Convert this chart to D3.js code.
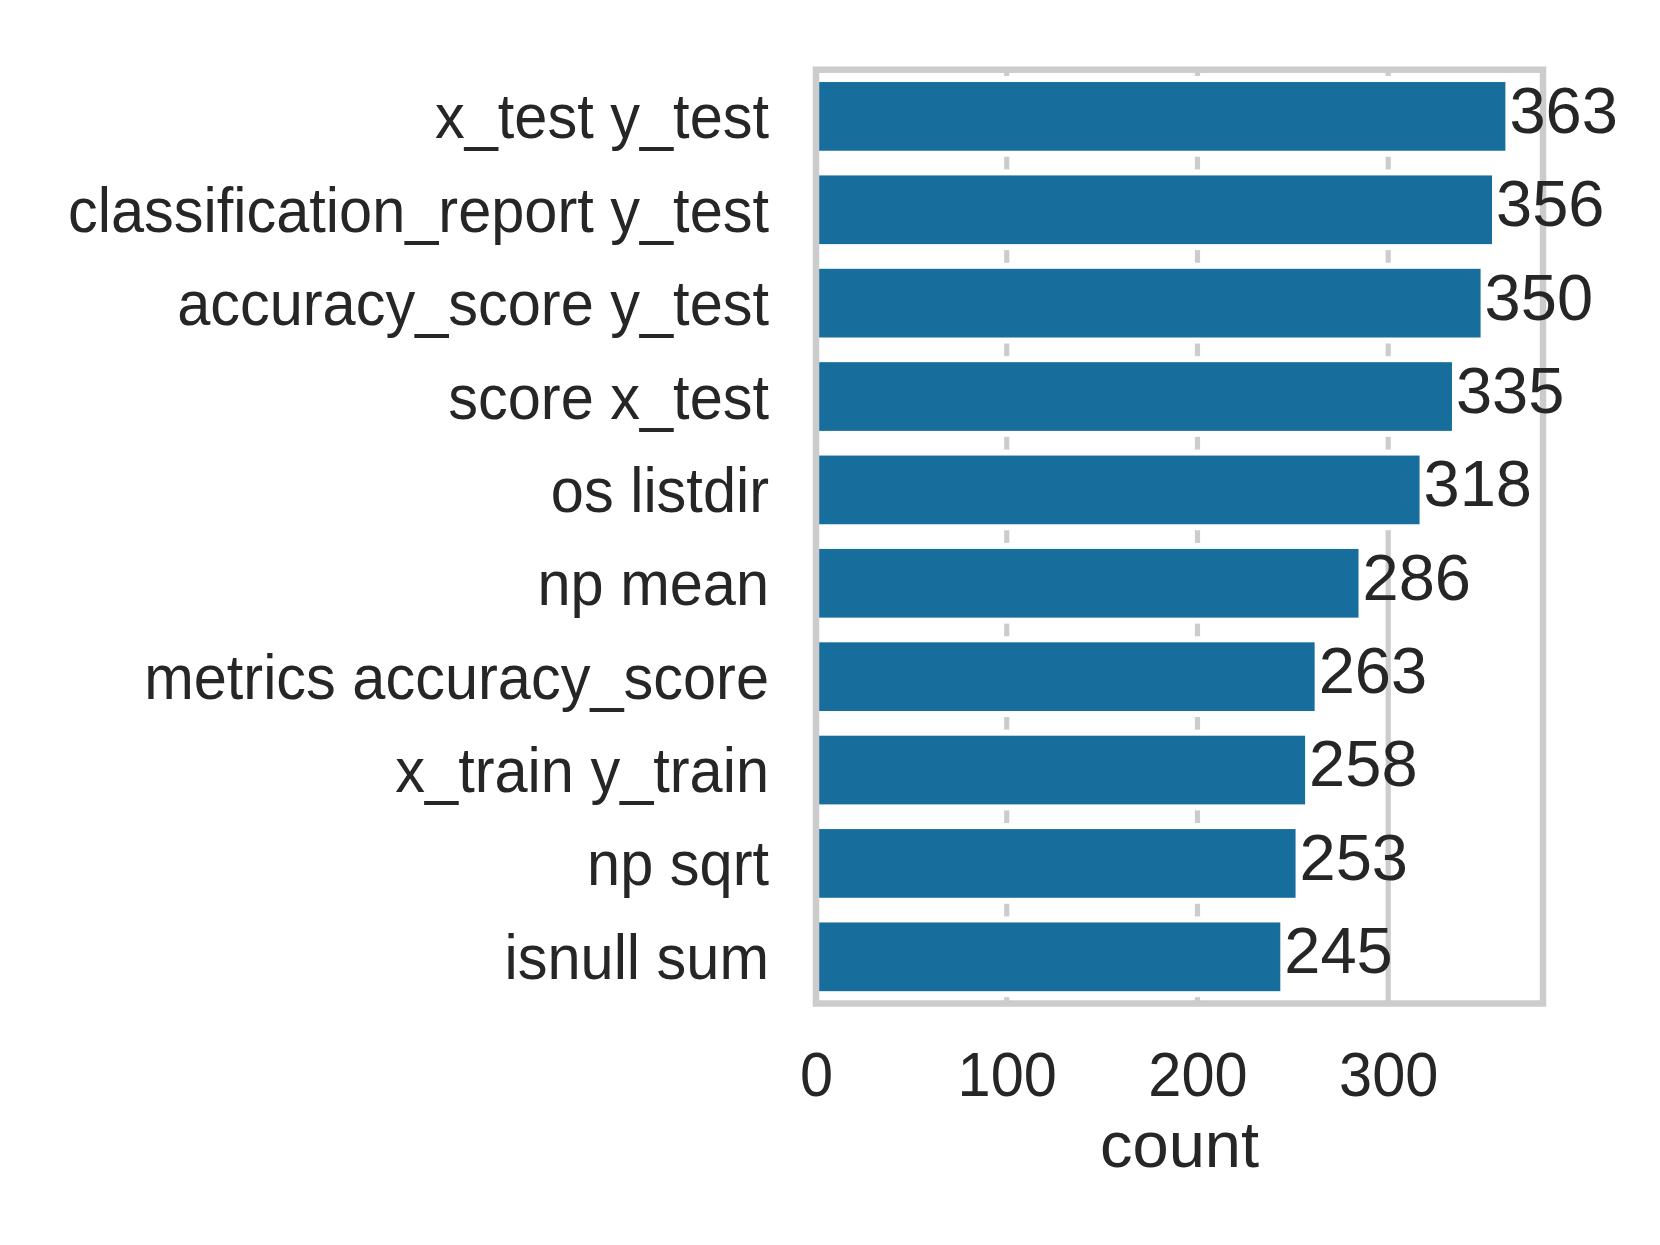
<!DOCTYPE html>
<html>
<head>
<meta charset="utf-8">
<script src="https://cdn.jsdelivr.net/npm/d3@7"></script>
<style>
  body { margin: 0; background: #fff; }
  svg text { font-family: "Liberation Sans", Arial, sans-serif; fill: #262626; }
</style>
</head>
<body>
<svg width="1660" height="1245"></svg>
<script>
// bigram counts, most frequent first
var categories = ["x_test y_test", "classification_report y_test", "accuracy_score y_test",
  "score x_test", "os listdir", "np mean", "metrics accuracy_score",
  "x_train y_train", "np sqrt", "isnull sum"];
var counts = [363, 356, 350, 335, 318, 286, 263, 258, 253, 245];
var xTicks = [0, 100, 200, 300];
var xLabel = "count";

var svg = d3.select("svg");
// plot box (window.top is taken, so prefix these)
var plotLeft = 816, plotRight = 1543, plotTop = 69.7, plotBottom = 1003.5;
var tickFont = 59.5, labelFont = 65;
var stretch = 1.07; // tick labels in the original are a bit taller than wide
var barColor = "#176d9c", gridColor = "#cccccc";

var x = d3.scaleLinear()
    .domain([0, d3.max(counts) * 1.05])
    .range([plotLeft, plotRight]);

var y = d3.scaleBand()
    .domain(categories)
    .range([plotTop, plotBottom])
    .paddingInner(0.2)
    .paddingOuter(0.1);

// vertical grid, under the bars
svg.append("g").selectAll("line")
    .data(xTicks)
    .enter().append("line")
      .attr("x1", d => x(d)).attr("x2", d => x(d))
      .attr("y1", plotTop).attr("y2", plotBottom)
      .attr("stroke", gridColor)
      .attr("stroke-width", 5.2);

// bars, white edge like seaborn
svg.append("g").selectAll("rect")
    .data(categories)
    .enter().append("rect")
      .attr("x", x(0))
      .attr("y", d => y(d))
      .attr("width", (d, i) => x(counts[i]) - x(0))
      .attr("height", y.bandwidth())
      .attr("fill", barColor)
      .attr("stroke", "#fff")
      .attr("stroke-width", 6);

// frame
svg.append("rect")
    .attr("x", plotLeft).attr("y", plotTop)
    .attr("width", plotRight - plotLeft).attr("height", plotBottom - plotTop)
    .attr("fill", "none")
    .attr("stroke", gridColor)
    .attr("stroke-width", 6.5);

// y axis labels
var yAxis = svg.append("g")
    .attr("transform", "translate(" + plotLeft + ",0)")
    .call(d3.axisLeft(y).tickSize(0).tickPadding(47));
yAxis.select(".domain").remove();
yAxis.attr("font-family", null).attr("font-size", null);
yAxis.selectAll("text")
    .attr("dy", 22 / stretch)
    .attr("fill", null)
    .attr("transform", "scale(1," + stretch + ")")
    .style("font-size", tickFont + "px");

// x axis labels
var xAxis = svg.append("g")
    .attr("transform", "translate(0," + plotBottom + ")")
    .call(d3.axisBottom(x).tickValues(xTicks).tickSize(0));
xAxis.select(".domain").remove();
xAxis.attr("font-family", null).attr("font-size", null);
xAxis.selectAll("text")
    .attr("y", 92.5 / stretch)
    .attr("dy", 0)
    .attr("fill", null)
    .attr("transform", "scale(1," + stretch + ")")
    .style("font-size", tickFont + "px");

svg.append("text")
    .attr("x", (plotLeft + plotRight) / 2)
    .attr("y", 1166.7)
    .attr("text-anchor", "middle")
    .style("font-size", labelFont + "px")
    .text(xLabel);

// value labels at bar ends
svg.append("g").selectAll("text")
    .data(categories)
    .enter().append("text")
      .attr("x", (d, i) => x(counts[i]) + 1)
      .attr("y", d => y(d) + y.bandwidth() / 2 + 16.4)
      .style("font-size", labelFont + "px")
      .text((d, i) => counts[i]);
</script>
</body>
</html>
